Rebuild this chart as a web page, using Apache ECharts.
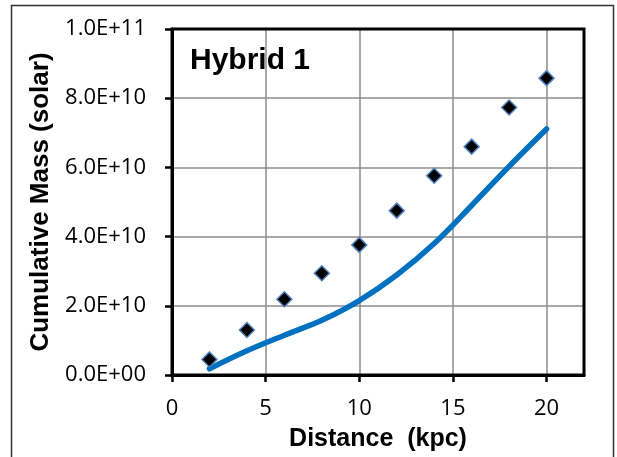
<!DOCTYPE html>
<html>
<head>
<meta charset="utf-8">
<script src="https://cdn.jsdelivr.net/npm/echarts@6/dist/echarts.min.js"></script>
<style>
  html, body { margin: 0; padding: 0; background: #fff; }
  #main { width: 617px; height: 457px; }
</style>
</head>
<body>
<div id="main"></div>
<script>
// distance (kpc) and cumulative mass (solar masses)
var distance = [2, 4, 6, 8, 10, 12, 14, 16, 18, 20];
var observedMass = [4.5e9, 1.3e10, 2.19e10, 2.94e10, 3.76e10, 4.75e10, 5.76e10, 6.6e10, 7.73e10, 8.58e10];
var modelMass = [1.8e9, 7.0e9, 1.15e10, 1.58e10, 2.15e10, 2.89e10, 3.8e10, 4.9e10, 6.03e10, 7.11e10];
var xTicks = [0, 5, 10, 15, 20];

function sci(v) { // excel style 1.0E+11
    if (v === 0) return '0.0E+00';
    var e = Math.floor(Math.log10(v));
    var m = v / Math.pow(10, e);
    return m.toFixed(1) + 'E+' + (e < 10 ? '0' + e : e);
}

var chart = echarts.init(document.getElementById('main'));

var option = {
    animation: false,
    backgroundColor: '#fff',
    grid: {
        left: 172, top: 29, right: 33, bottom: 82
    },
    graphic: [
        {
            type: 'rect',
            shape: { x: 11.5, y: 5.5, width: 602, height: 520 },
            style: { fill: 'none', stroke: '#333', lineWidth: 1.5 },
            z: 100
        },
        {
            // plot frame, drawn over the grid lines
            type: 'rect',
            shape: { x: 172, y: 29, width: 412, height: 346 },
            style: { fill: 'none', stroke: '#000', lineWidth: 3 },
            z: 100
        },
        {
            type: 'text',
            left: 190, top: 46,
            style: {
                text: 'Hybrid 1',
                font: 'bold 30px "Liberation Sans", Arial, sans-serif',
                fill: '#000'
            },
            z: 100
        }
    ],
    xAxis: {
        type: 'value',
        min: 0, max: 22, interval: 5,
        name: 'Distance  (kpc)',
        nameLocation: 'middle',
        nameGap: 52,
        nameTextStyle: { fontFamily: 'Liberation Sans', fontWeight: 'bold', fontSize: 25, color: '#000' },
        axisLine: { show: true, lineStyle: { color: '#000', width: 3 } },
        axisTick: { show: true, length: 7, lineStyle: { color: '#000', width: 2.5 } },
        axisLabel: {
            showMaxLabel: false,
            margin: 23,
            fontFamily: '"Open Sans"', fontSize: 22, color: '#000',
            formatter: function (v) { return xTicks.indexOf(v) >= 0 ? String(v) : ''; }
        },
        splitLine: { show: true, lineStyle: { color: '#8c8c8c', width: 1.5 } }
    },
    yAxis: {
        type: 'value',
        min: 0, max: 1e11, interval: 2e10,
        name: 'Cumulative Mass (solar)',
        nameLocation: 'middle',
        nameGap: 118,
        nameTextStyle: { fontFamily: 'Liberation Sans', fontWeight: 'bold', fontSize: 26, color: '#000' },
        axisLine: { show: true, lineStyle: { color: '#000', width: 3 } },
        axisTick: { show: true, length: 7, lineStyle: { color: '#000', width: 2.5 } },
        axisLabel: {
            margin: 26,
            fontFamily: '"Open Sans"', fontSize: 22, color: '#000',
            formatter: sci
        },
        splitLine: { show: true, lineStyle: { color: '#8c8c8c', width: 1.5 } }
    },
    series: [
        {
            name: 'model',
            type: 'line',
            smooth: 0.35,
            showSymbol: false,
            data: distance.map(function (d, i) { return [d, modelMass[i]]; }),
            lineStyle: { color: '#0070c0', width: 5.5, cap: 'round' },
            z: 2
        },
        {
            name: 'observed',
            type: 'scatter',
            symbol: 'diamond',
            symbolSize: [15, 15],
            data: distance.map(function (d, i) { return [d, observedMass[i]]; }),
            itemStyle: { color: '#000', borderColor: '#4f81bd', borderWidth: 1.5, opacity: 1 },
            z: 3
        }
    ]
};

chart.setOption(option);
</script>
</body>
</html>
